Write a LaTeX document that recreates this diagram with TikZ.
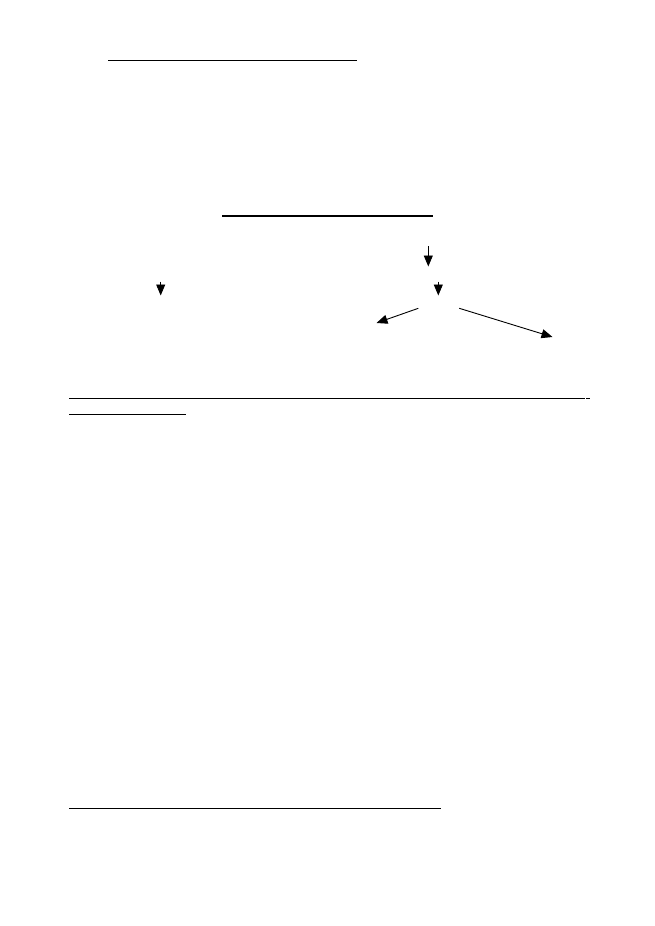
\documentclass[tikz,border=0pt]{standalone}
\usepackage{tikz}
\usetikzlibrary{arrows.meta}

\begin{document}
\begin{tikzpicture}[x=1pt, y=-1pt,
		rule/.style = {line width = 1.2pt},
		arr/.style = {line width = 0.9pt, -{Triangle[length=11pt, width=9pt]}}]
		\useasboundingbox (0,0) rectangle (655,926);

		% underlines
		\draw[rule] (108,60.3) -- (356.7,60.3);
		\draw[rule] (222,216) -- (432.7,216);
		\draw[rule] (69,398.3) -- (585,398.3);
		\draw[rule] (586,398.3) -- (590,398.3);
		\draw[rule] (69,414.3) -- (186,414.3);
		\draw[rule] (69,808.3) -- (440.7,808.3);

		% arrow ends
		\coordinate (topA) at (428.3,246);
		\coordinate (topB) at (428.3,266.5);
		\coordinate (leftA) at (160.7,281.7);
		\coordinate (leftB) at (160.7,295.5);
		\coordinate (midA) at (438.3,281.7);
		\coordinate (midB) at (438.3,295.5);
		\coordinate (forkL) at (418.3,308.3);
		\coordinate (tipL) at (376.5,323);
		\coordinate (forkR) at (459.3,308.3);
		\coordinate (tipR) at (552.5,337);

		\draw[arr] (topA) -- (topB);
		\draw[arr] (leftA) -- (leftB);
		\draw[arr] (midA) -- (midB);
		\draw[arr] (forkL) -- (tipL);
		\draw[arr] (forkR) -- (tipR);

\end{tikzpicture}
\end{document}
